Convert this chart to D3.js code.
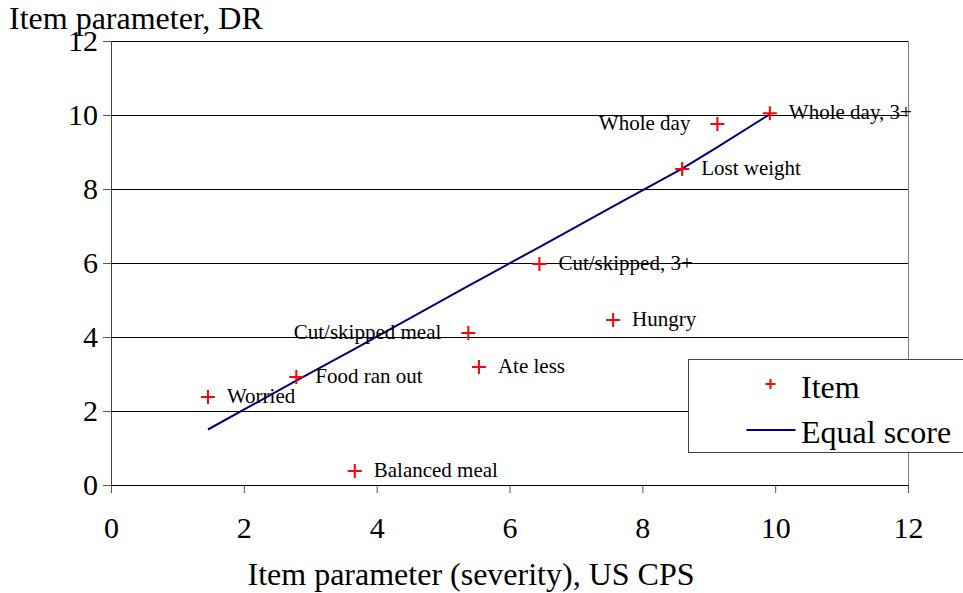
<!DOCTYPE html>
<html>
<head>
<meta charset="utf-8">
<script src="https://cdn.jsdelivr.net/npm/d3@7"></script>
<style>
  body { margin: 0; background: #fff; }
  svg text { font-family: "Liberation Serif", "Times New Roman", serif; fill: #000; }
</style>
</head>
<body>
<div id="chart"></div>
<script>
// item parameters: US CPS severity (x) vs DR (y)
var itemNames = ["Worried", "Food ran out", "Balanced meal", "Cut/skipped meal", "Ate less",
    "Cut/skipped, 3+", "Hungry", "Lost weight", "Whole day", "Whole day, 3+"];
var itemX = [1.46, 2.79, 3.67, 5.38, 5.54, 6.45, 7.56, 8.60, 9.13, 9.92];
var itemY = [2.38, 2.92, 0.38, 4.11, 3.19, 5.97, 4.46, 8.54, 9.76, 10.05];
var labelLeft = ["Whole day", "Cut/skipped meal"];

// equal score line
var lineX = [1.46, 2.79, 3.67, 5.38, 5.54, 6.45, 7.56, 8.60, 9.13, 9.92];
var lineY = [1.50, 2.82, 3.68, 5.38, 5.54, 6.43, 7.53, 8.55, 9.13, 10.02];

var tickVals = [0, 2, 4, 6, 8, 10, 12];

var svgWidth = 963, svgHeight = 593;
var margin = { top: 41, right: 55, bottom: 108, left: 111 };
var chart_width = 908 - margin.left;
var chart_height = 485 - margin.top;

var svg = d3.select("#chart").append("svg")
    .attr("width", svgWidth)
    .attr("height", svgHeight);

var chartGroup = svg.append("g")
    .attr("transform", `translate(${margin.left}, ${margin.top})`);

var xScale = d3.scaleLinear().domain([0, 12]).range([0, chart_width]);
var yScale = d3.scaleLinear().domain([0, 12]).range([chart_height, 0]);

// gridlines
chartGroup.append("g")
    .selectAll("line")
    .data(tickVals.filter(d => d > 0))
    .enter()
    .append("line")
    .attr("x1", 0)
    .attr("x2", chart_width)
    .attr("y1", d => Math.round(yScale(d)) + 0.5)
    .attr("y2", d => Math.round(yScale(d)) + 0.5)
    .attr("stroke", "#000")
    .attr("stroke-width", 1);

// right border of plot area
chartGroup.append("line")
    .attr("x1", chart_width + 0.5).attr("x2", chart_width + 0.5)
    .attr("y1", 0).attr("y2", chart_height)
    .attr("stroke", "#808080");

// axes
var bottomAxis = d3.axisBottom(xScale).tickValues(tickVals).tickSize(8).tickPadding(24);
var leftAxis = d3.axisLeft(yScale).tickValues(tickVals).tickSize(8).tickPadding(5);

var xAxisG = chartGroup.append("g")
    .attr("transform", `translate(0, ${chart_height})`)
    .call(bottomAxis);
var yAxisG = chartGroup.append("g").call(leftAxis);

[xAxisG, yAxisG].forEach(function(g) {
    g.select(".domain").attr("stroke", "#000");
    g.selectAll(".tick line").attr("stroke", "#555");
    g.selectAll(".tick text")
        .attr("font-size", 30)
        .attr("font-family", "Liberation Serif");
});
yAxisG.select(".domain").attr("stroke", "#444").attr("d", `M0.5,${chart_height}V0`);
xAxisG.selectAll(".tick line").attr("y1", 1);

// equal score line
var lineGen = d3.line()
    .x(d => xScale(d[0]))
    .y(d => yScale(d[1]));
chartGroup.append("path")
    .datum(d3.zip(lineX, lineY))
    .attr("d", lineGen)
    .attr("fill", "none")
    .attr("stroke", "#000080")
    .attr("stroke-width", 2);

// plus markers
var items = itemNames.map((n, i) => ({ name: n, x: itemX[i], y: itemY[i] }));
var markers = chartGroup.append("g")
    .selectAll("g")
    .data(items)
    .enter()
    .append("g")
    .attr("transform", d => `translate(${xScale(d.x)}, ${yScale(d.y)})`);
markers.append("path")
    .attr("d", "M-7,0H7M0,-7V7")
    .attr("stroke", "#ff0000")
    .attr("stroke-width", 2);

markers.append("text")
    .text(d => d.name)
    .attr("x", d => labelLeft.includes(d.name) ? -27 : 19)
    .attr("text-anchor", d => labelLeft.includes(d.name) ? "end" : "start")
    .attr("dy", "0.3em")
    .attr("font-size", 21);

// axis titles
svg.append("text")
    .attr("x", 9)
    .attr("y", 29)
    .attr("font-size", 32)
    .text("Item parameter, DR");

svg.append("text")
    .attr("x", 471)
    .attr("y", 585)
    .attr("text-anchor", "middle")
    .attr("font-size", 32)
    .text("Item parameter (severity), US CPS");

// legend
var legend = svg.append("g").attr("transform", "translate(688.5, 359.5)");
legend.append("rect")
    .attr("width", 300)
    .attr("height", 93)
    .attr("fill", "#fff")
    .attr("stroke", "#444");
legend.append("path")
    .attr("d", "M77,24.5H87M82,19.5V29.5")
    .attr("stroke", "#ff0000")
    .attr("stroke-width", 2);
legend.append("text")
    .attr("x", 112.5).attr("y", 38.5)
    .attr("font-size", 32)
    .text("Item");
legend.append("line")
    .attr("x1", 58).attr("x2", 107)
    .attr("y1", 70.5).attr("y2", 70.5)
    .attr("stroke", "#000080")
    .attr("stroke-width", 2);
legend.append("text")
    .attr("x", 112.5).attr("y", 83.5)
    .attr("font-size", 32)
    .text("Equal score");
</script>
</body>
</html>
